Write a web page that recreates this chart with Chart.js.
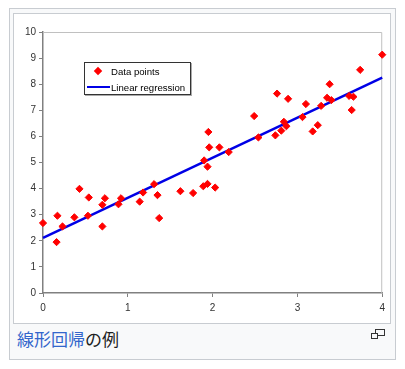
<!DOCTYPE html>
<html>
<head>
<meta charset="utf-8">
<script src="https://cdn.jsdelivr.net/npm/chart.js@4.4.0/dist/chart.umd.min.js"></script>
<style>
  body { margin: 0; background: #fff; font-family: "Liberation Sans", Arial, sans-serif; }
  .thumb { position: absolute; left: 9px; top: 8px; width: 385px; height: 350px; border: 1px solid #c8ccd1; background: #f8f9fa; }
  .frame { position: absolute; left: 3px; top: 4px; width: 376px; height: 309px; border: 1px solid #c8ccd1; background: #fff; }
  #chart { position: absolute; left: 0; top: 0; }
  .legend { position: absolute; left: 84px; top: 62px; width: 105px; height: 31px; border: 1px solid #333; box-shadow: 1px 1px 0 #aaa; background: #fff; font-size: 9.6px; color: #000; white-space: nowrap; }
  .legend .row { display: flex; align-items: center; height: 16px; }
  .legend .mark { width: 26px; min-width: 26px; flex-shrink: 0; height: 16px; position: relative; }
  .legend .diamond { position: absolute; left: 10px; top: 5px; width: 6px; height: 6px; background: #f00; transform: rotate(45deg); }
  .legend .line { position: absolute; left: 2px; top: 7px; width: 23px; height: 2px; background: #0000e6; }
  .caption { position: absolute; left: 17px; top: 330px; font-family: "Noto Sans CJK JP", sans-serif; font-size: 17px; line-height: 17px; color: #202122; }
  .caption a { color: #3366cc; text-decoration: none; }
  .magnify { position: absolute; left: 371px; top: 329px; width: 14px; height: 10px; }
  .magnify .big { position: absolute; left: 4px; top: 0; width: 8px; height: 5px; border: 1px solid #333; }
  .magnify .small { position: absolute; left: 0; top: 4px; width: 5px; height: 4px; border: 1px solid #333; background: #f8f9fa; }
</style>
</head>
<body>
<div class="thumb">
  <div class="frame"><canvas id="chart" width="376" height="309"></canvas></div>
</div>
<div class="legend" id="legend"></div>
<div class="caption"><a>線形回帰</a>の例</div>
<div class="magnify"><div class="big"></div><div class="small"></div></div>
<script>
  // Scatter data
  const pointsX = [0, 0.17, 0.16, 0.23, 0.37, 0.43, 0.54, 0.53, 0.70, 0.70, 0.73, 0.89, 0.92, 1.14, 1.18, 1.31, 1.35, 1.37, 1.62, 1.77,
                   1.89, 1.94, 1.90, 1.94, 1.95, 1.96, 2.03, 2.08, 2.19, 2.49, 2.54, 2.74, 2.76, 2.81, 2.84, 2.87, 2.89, 3.06, 3.10, 3.18,
                   3.24, 3.28, 3.35, 3.38, 3.40, 3.61, 3.66, 3.64, 3.74, 4.00];
  const pointsY = [2.68, 2.96, 1.95, 2.55, 2.90, 3.99, 3.66, 2.96, 3.38, 2.55, 3.63, 3.40, 3.63, 3.50, 3.85, 4.17, 3.75, 2.87, 3.90, 3.83,
                   4.09, 4.18, 5.08, 4.84, 6.17, 5.58, 4.04, 5.58, 5.40, 6.78, 5.96, 6.04, 7.64, 6.22, 6.56, 6.39, 7.44, 6.74, 7.24, 6.19,
                   6.43, 7.17, 7.48, 8.00, 7.39, 7.55, 7.52, 7.01, 8.55, 9.13];
  // Regression line end points
  const regX = [0, 4];
  const regY = [2.11, 8.25];
  const seriesNames = ['Data points', 'Linear regression'];
  const xTicks = [0, 1, 2, 3, 4];
  const yTicks = [0, 1, 2, 3, 4, 5, 6, 7, 8, 9, 10];

  // little legend box inside the plot
  const legend = document.getElementById('legend');
  legend.innerHTML =
    '<div class="row"><div class="mark"><div class="diamond"></div></div><span>' + seriesNames[0] + '</span></div>' +
    '<div class="row"><div class="mark"><div class="line"></div></div><span>' + seriesNames[1] + '</span></div>';

  // light grey top/right edges of the plot area
  const frameLines = {
    id: 'frameLines',
    beforeDatasetsDraw(chart) {
      const { ctx, chartArea: a } = chart;
      ctx.save();
      ctx.strokeStyle = '#c0c0c0';
      ctx.lineWidth = 1;
      ctx.beginPath();
      ctx.moveTo(a.left, a.top + 0.5);
      ctx.lineTo(a.right - 0.5, a.top + 0.5);
      ctx.lineTo(a.right - 0.5, a.bottom);
      ctx.stroke();
      ctx.restore();
    }
  };

  const tickFont = { family: '"Liberation Sans", Arial, sans-serif', size: 10 };

  new Chart(document.getElementById('chart'), {
    type: 'scatter',
    data: {
      datasets: [
        {
          label: seriesNames[0],
          data: pointsX.map((x, i) => ({ x: x, y: pointsY[i] })),
          pointStyle: 'rectRot',
          pointRadius: 3.6,
          pointBackgroundColor: '#ff0000',
          pointBorderColor: '#ff0000',
          pointBorderWidth: 1,
          clip: false,
          order: 0
        },
        {
          label: seriesNames[1],
          type: 'line',
          data: regX.map((x, i) => ({ x: x, y: regY[i] })),
          borderColor: '#0000e6',
          borderWidth: 2.5,
          pointRadius: 0,
          fill: false,
          clip: false,
          order: 1
        }
      ]
    },
    options: {
      responsive: false,
      animation: false,
      layout: { padding: { left: 0, right: 7, top: 18, bottom: 0 } },
      plugins: {
        legend: { display: false },
        tooltip: { enabled: false }
      },
      scales: {
        x: {
          type: 'linear',
          min: 0,
          max: 4,
          afterBuildTicks: s => { s.ticks = xTicks.map(v => ({ value: v })); },
          afterFit: s => { s.height = 30; },
          ticks: { color: '#333', font: tickFont, padding: 5, maxRotation: 0 },
          grid: { drawOnChartArea: false, drawTicks: true, tickLength: 4, color: '#808080' },
          border: { color: '#808080', width: 1.5 }
        },
        y: {
          min: 0,
          max: 10,
          afterBuildTicks: s => { s.ticks = yTicks.map(v => ({ value: v })); },
          afterFit: s => { s.width = 29; },
          ticks: { color: '#333', font: tickFont, padding: 3 },
          grid: { drawOnChartArea: false, drawTicks: true, tickLength: 4, color: '#808080' },
          border: { color: '#808080', width: 1.5 }
        }
      }
    },
    plugins: [frameLines]
  });
</script>
</body>
</html>
